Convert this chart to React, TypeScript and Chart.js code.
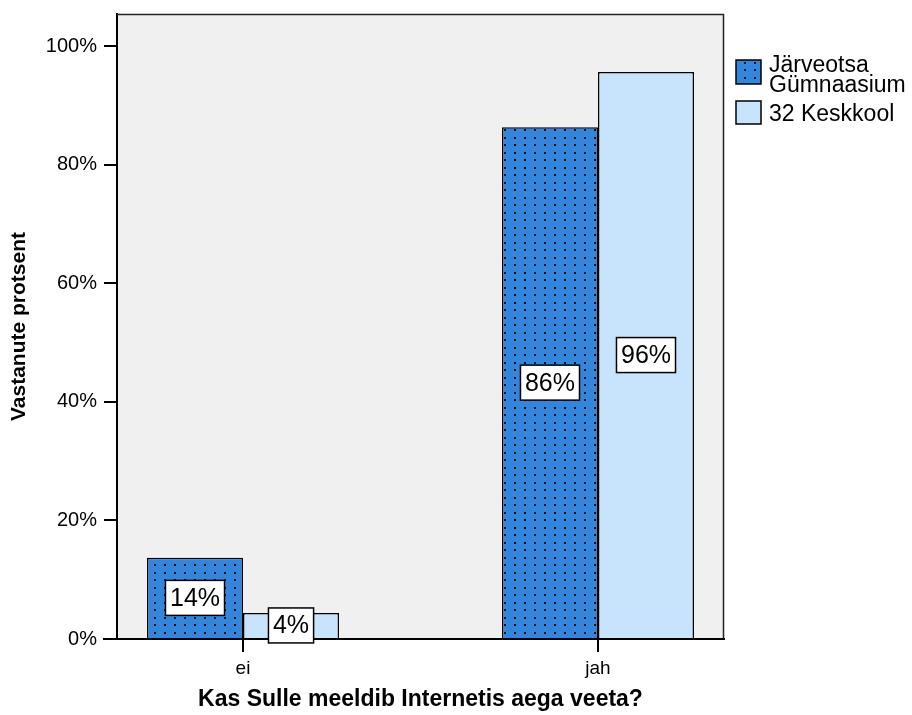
import React, { useEffect, useRef } from 'react';
import { Chart, registerables } from 'chart.js';

Chart.register(...registerables);

const categories = ['ei', 'jah'];
const seriesNames = [['Järveotsa', 'Gümnaasium'], ['32 Keskkool']];
const jarveotsaValues = [13.7, 86.3];
const keskkoolValues = [4.4, 95.6];
const jarveotsaLabels = ['14%', '86%'];
const keskkoolLabels = ['4%', '96%'];
const yTickValues = [0, 20, 40, 60, 80, 100];

const FONT = '"Liberation Sans", Arial, sans-serif';
const DARK = '#3486DC';
const LIGHT = '#C8E4FC';
const PLOT_BG = '#F0F0F0';

function makeDotPattern(): CanvasPattern | string {
  const c = document.createElement('canvas');
  c.width = 10;
  c.height = 15;
  const g = c.getContext('2d');
  if (!g) return DARK;
  g.fillStyle = DARK;
  g.fillRect(0, 0, 10, 15);
  g.fillStyle = 'rgba(0,0,0,0.9)';
  g.fillRect(4, 2, 2, 2);
  g.fillRect(4, 9, 2, 2);
  const p = g.createPattern(c, 'repeat');
  return p || DARK;
}

export default function App() {
  const ref = useRef<HTMLCanvasElement | null>(null);

  useEffect(() => {
    const canvas = ref.current;
    if (!canvas) return;
    const pattern = makeDotPattern();
    const allLabels = [jarveotsaLabels, keskkoolLabels];

    const framePlugin = {
      id: 'frame',
      beforeDraw(chart: any) {
        const { ctx, chartArea: a } = chart;
        ctx.save();
        ctx.fillStyle = PLOT_BG;
        ctx.fillRect(a.left, a.top, a.right - a.left, a.bottom - a.top);
        ctx.restore();
      },
      afterDraw(chart: any) {
        const { ctx, chartArea: a } = chart;
        ctx.save();
        // top & right frame
        ctx.strokeStyle = '#222';
        ctx.lineWidth = 1.5;
        ctx.beginPath();
        ctx.moveTo(a.left, a.top + 0.5);
        ctx.lineTo(a.right - 0.5, a.top + 0.5);
        ctx.lineTo(a.right - 0.5, a.bottom);
        ctx.stroke();
        // x axis extension to the left
        ctx.strokeStyle = '#000';
        ctx.lineWidth = 2;
        ctx.beginPath();
        ctx.moveTo(a.left - 14, a.bottom);
        ctx.lineTo(a.left, a.bottom);
        ctx.stroke();

        // value labels
        ctx.font = `25px ${FONT}`;
        ctx.textAlign = 'center';
        ctx.textBaseline = 'middle';
        chart.data.datasets.forEach((ds: any, di: number) => {
          const meta = chart.getDatasetMeta(di);
          meta.data.forEach((el: any, i: number) => {
            const txt = allLabels[di][i];
            const cx = el.x;
            const cy = (el.y + el.base) / 2;
            const w = ctx.measureText(txt).width + 9;
            const h = 35;
            ctx.fillStyle = '#fff';
            ctx.fillRect(cx - w / 2, cy - h / 2, w, h);
            ctx.strokeStyle = '#000';
            ctx.lineWidth = 1.5;
            ctx.strokeRect(cx - w / 2, cy - h / 2, w, h);
            ctx.fillStyle = '#000';
            ctx.fillText(txt, cx, cy + 1);
          });
        });

        // axis titles
        ctx.font = `bold 23px ${FONT}`;
        ctx.fillStyle = '#000';
        ctx.textAlign = 'center';
        ctx.textBaseline = 'middle';
        ctx.fillText('Kas Sulle meeldib Internetis aega veeta?', (a.left + a.right) / 2, 700);
        ctx.save();
        ctx.translate(19, (a.top + a.bottom) / 2);
        ctx.rotate(-Math.PI / 2);
        ctx.font = `bold 21px ${FONT}`;
        ctx.fillText('Vastanute protsent', 0, 0);
        ctx.restore();

        // legend
        const fills = [pattern, LIGHT];
        const boxes = [
          { x: 736, y: 60, w: 25, h: 24 },
          { x: 736, y: 101, w: 25, h: 23 },
        ];
        const baselines = [[72, 92], [121]];
        ctx.font = `23px ${FONT}`;
        ctx.textAlign = 'left';
        ctx.textBaseline = 'alphabetic';
        seriesNames.forEach((lines, i) => {
          const b = boxes[i];
          ctx.fillStyle = fills[i] as any;
          ctx.fillRect(b.x, b.y, b.w, b.h);
          ctx.strokeStyle = '#000';
          ctx.lineWidth = 1.5;
          ctx.strokeRect(b.x, b.y, b.w, b.h);
          ctx.fillStyle = '#000';
          lines.forEach((t, li) => ctx.fillText(t, 769, baselines[i][li]));
        });
        ctx.restore();
      },
    };

    const chart = new Chart(canvas, {
      type: 'bar',
      data: {
        datasets: [
          {
            label: seriesNames[0].join(' '),
            data: jarveotsaValues.map((v, i) => ({ x: i, y: v })),
            backgroundColor: pattern as any,
            borderColor: '#000',
            borderWidth: 1.5,
            barPercentage: 1,
            categoryPercentage: 0.541,
          },
          {
            label: seriesNames[1].join(' '),
            data: keskkoolValues.map((v, i) => ({ x: i, y: v })),
            backgroundColor: LIGHT,
            borderColor: '#000',
            borderWidth: 1.5,
            barPercentage: 1,
            categoryPercentage: 0.541,
          },
        ],
      },
      options: {
        responsive: false,
        animation: false,
        devicePixelRatio: 1,
        layout: { padding: { top: 14, right: 188, left: 0, bottom: 0 } },
        plugins: { legend: { display: false }, tooltip: { enabled: false } },
        scales: {
          x: {
            type: 'linear',
            offset: false,
            min: -0.355,
            max: 1.355,
            afterFit: (s: any) => {
              s.height = 76;
              s.paddingLeft = 0;
              s.paddingRight = 0;
            },
            afterBuildTicks: (s: any) => {
              s.ticks = categories.map((_, i) => ({ value: i }));
            },
            ticks: {
              callback: (v: any) => categories[Math.round(Number(v))] ?? '',
              font: { family: FONT, size: 19 },
              color: '#000',
              padding: 5,
              maxRotation: 0,
            },
            grid: {
              offset: false,
              drawOnChartArea: false,
              drawTicks: true,
              tickLength: 13,
              color: '#000',
              lineWidth: 2,
            },
            border: { display: true, color: '#000', width: 2 },
          },
          y: {
            type: 'linear',
            min: 0,
            max: 105.4,
            afterFit: (s: any) => {
              s.width = 117;
              s.paddingTop = 0;
              s.paddingBottom = 0;
            },
            afterBuildTicks: (s: any) => {
              s.ticks = yTickValues.map((v) => ({ value: v }));
            },
            ticks: {
              callback: (v: any) => `${v}%`,
              font: { family: FONT, size: 20 },
              color: '#000',
              padding: 7,
            },
            grid: {
              drawOnChartArea: false,
              drawTicks: true,
              tickLength: 13,
              color: '#000',
              lineWidth: 2,
            },
            border: { display: true, color: '#000', width: 2 },
          },
        },
      },
      plugins: [framePlugin],
    });

    return () => chart.destroy();
  }, []);

  return (
    <div style={{ position: 'absolute', left: 0, top: 0, width: 912, height: 715, background: '#fff' }}>
      <canvas ref={ref} width={912} height={715} style={{ display: 'block' }} />
    </div>
  );
}
